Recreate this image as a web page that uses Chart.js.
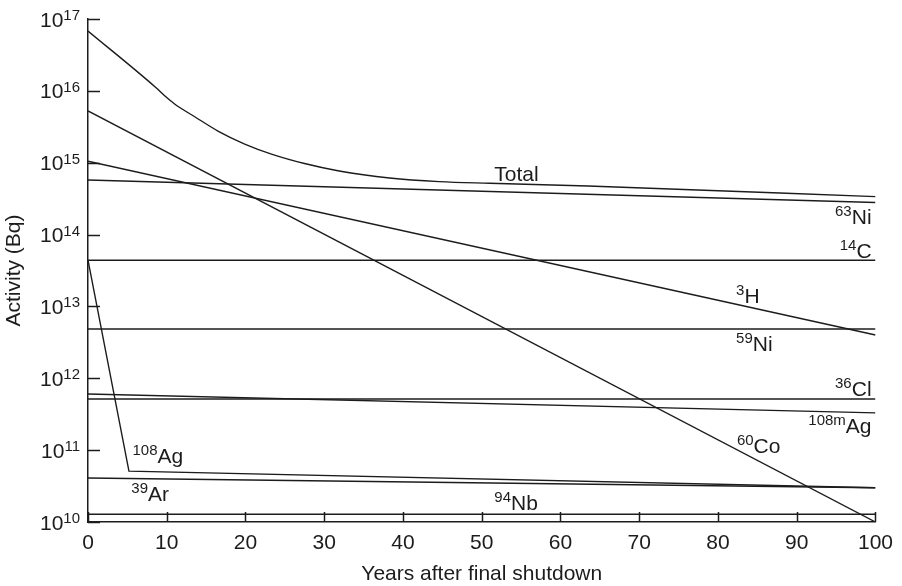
<!DOCTYPE html>
<html>
<head>
<meta charset="utf-8">
<script src="https://cdn.jsdelivr.net/npm/chart.js@4.4.1/dist/chart.umd.min.js"></script>
<style>
    html, body { margin: 0; padding: 0; background: #ffffff; }
    #wrap { width: 902px; height: 586px; position: relative; }
</style>
</head>
<body>
<div id="wrap"><canvas id="activity-chart"></canvas></div>
<script>
// --- datos (actividad en Bq frente a anos tras el cierre) ---
const totalYears    = [0, 8.5, 9.76, 11.0, 13.6, 16.5, 19.9, 23.3, 27.5, 31.9, 38.3, 44.6, 51, 63.5, 100];
const totalActivity = [6.8e16, 1.14e16, 8.5e15, 6.56e15, 4.33e15, 2.76e15, 1.82e15, 1.32e15, 9.75e14, 7.67e14, 6.13e14, 5.45e14, 5.17e14, 4.75e14, 3.37e14];

const endYears   = [0, 100];
const ni63       = [5.75e14, 2.8e14];
const c14        = [4.4e13, 4.4e13];
const h3         = [1.05e15, 4.0e12];
const ni59       = [4.85e12, 4.85e12];
const cl36       = [5.15e11, 5.15e11];
const ag108m     = [6.05e11, 3.3e11];
const co60       = [5.25e15, 1.0e10];
const ar39       = [4.1e10, 3.0e10];
const nb94       = [1.28e10, 1.28e10];

const ag108Years = [0, 5.2, 100];
const ag108      = [4.4e13, 5.1e10, 3.0e10];

// marcas de los ejes
const xTickValues = [0, 10, 20, 30, 40, 50, 60, 70, 80, 90, 100];
const yExponents  = [10, 11, 12, 13, 14, 15, 16, 17];

// etiquetas de cada curva: superindice, simbolo, posicion (ano, Bq), alineacion
const curveLabels = [
    { sup: '',     main: 'Total', year: 51.6, value: 5.6e14,  align: 'left' },
    { sup: '63',   main: 'Ni',    year: 99.5, value: 1.4e14,  align: 'right' },
    { sup: '14',   main: 'C',     year: 99.5, value: 4.7e13,  align: 'right' },
    { sup: '3',    main: 'H',     year: 82.3, value: 1.13e13, align: 'left' },
    { sup: '59',   main: 'Ni',    year: 82.3, value: 2.42e12, align: 'left' },
    { sup: '36',   main: 'Cl',    year: 99.5, value: 5.7e11,  align: 'right' },
    { sup: '108m', main: 'Ag',    year: 99.5, value: 1.73e11, align: 'right' },
    { sup: '60',   main: 'Co',    year: 82.4, value: 9.0e10,  align: 'left' },
    { sup: '108',  main: 'Ag',    year: 5.65, value: 6.6e10,  align: 'left' },
    { sup: '39',   main: 'Ar',    year: 5.5,  value: 1.98e10, align: 'left' },
    { sup: '94',   main: 'Nb',    year: 51.6, value: 1.47e10, align: 'left' }
];

const INK = '#1c1c1c';
const FONT = '"Liberation Sans", Arial, Helvetica, sans-serif';
const MAIN_FONT = '21px ' + FONT;
const SUP_FONT = '15px ' + FONT;

const toPoints = (xs, ys) => xs.map((x, i) => ({ x: x, y: ys[i] }));

const seriesLine = (label, xs, ys) => ({
    label: label,
    data: toPoints(xs, ys),
    borderColor: INK,
    borderWidth: 1.4,
    pointRadius: 0,
    tension: 0,
    fill: false
});

const datasets = [
    Object.assign(seriesLine('Total', totalYears, totalActivity), { cubicInterpolationMode: 'monotone' }),
    seriesLine('63Ni', endYears, ni63),
    seriesLine('14C', endYears, c14),
    seriesLine('3H', endYears, h3),
    seriesLine('59Ni', endYears, ni59),
    seriesLine('36Cl', endYears, cl36),
    seriesLine('108mAg', endYears, ag108m),
    seriesLine('60Co', endYears, co60),
    seriesLine('108Ag', ag108Years, ag108),
    seriesLine('39Ar', endYears, ar39),
    seriesLine('94Nb', endYears, nb94)
];

// ticks hacia dentro, etiquetas 10^n y nombres de los isotopos
const decayDecorations = {
    id: 'decayDecorations',
    afterDraw(chart) {
        const ctx = chart.ctx;
        const xs = chart.scales.x;
        const ys = chart.scales.y;
        const area = chart.chartArea;
        ctx.save();

        ctx.strokeStyle = INK;
        ctx.lineWidth = 1.5;
        ctx.beginPath();
        xTickValues.forEach(v => {
            const px = Math.round(xs.getPixelForValue(v)) + 0.5;
            ctx.moveTo(px, area.bottom);
            ctx.lineTo(px, area.bottom - 10);
        });
        yExponents.forEach(e => {
            const py = Math.round(ys.getPixelForValue(Math.pow(10, e))) + 0.5;
            ctx.moveTo(area.left, py);
            ctx.lineTo(area.left + 12, py);
        });
        ctx.stroke();

        ctx.fillStyle = INK;
        ctx.textBaseline = 'alphabetic';
        ctx.textAlign = 'left';
        const labelRight = area.left - 8;
        yExponents.forEach(e => {
            const py = ys.getPixelForValue(Math.pow(10, e));
            ctx.font = SUP_FONT;
            const supW = ctx.measureText(String(e)).width;
            ctx.font = MAIN_FONT;
            const mainW = ctx.measureText('10').width;
            const x0 = labelRight - supW - mainW;
            ctx.fillText('10', x0, py + 7.5);
            ctx.font = SUP_FONT;
            ctx.fillText(String(e), x0 + mainW, py + 1);
        });

        curveLabels.forEach(l => {
            const px = xs.getPixelForValue(l.year);
            const py = ys.getPixelForValue(l.value);
            ctx.font = SUP_FONT;
            const supW = l.sup ? ctx.measureText(l.sup).width : 0;
            ctx.font = MAIN_FONT;
            const mainW = ctx.measureText(l.main).width;
            const x0 = l.align === 'right' ? px - supW - mainW : px;
            if (l.sup) {
                ctx.font = SUP_FONT;
                ctx.fillText(l.sup, x0, py - 8);
            }
            ctx.font = MAIN_FONT;
            ctx.fillText(l.main, x0 + supW, py);
        });

        ctx.restore();
    }
};

const ctx = document.getElementById('activity-chart');
new Chart(ctx, {
    type: 'line',
    data: { datasets: datasets },
    options: {
        responsive: true,
        maintainAspectRatio: false,
        animation: false,
        devicePixelRatio: 1,
        layout: { padding: { top: 19, right: 25, left: 0, bottom: 0 } },
        plugins: {
            legend: { display: false },
            tooltip: { enabled: false }
        },
        scales: {
            x: {
                type: 'linear',
                min: 0,
                max: 100,
                afterFit: (scale) => { scale.height = 64; },
                afterBuildTicks: (scale) => { scale.ticks = xTickValues.map(v => ({ value: v })); },
                grid: { display: false, drawTicks: false },
                border: { display: true, color: INK, width: 1.5 },
                ticks: {
                    color: INK,
                    font: { family: FONT, size: 21 },
                    padding: 9,
                    maxRotation: 0
                },
                title: {
                    display: true,
                    text: 'Years after final shutdown',
                    color: INK,
                    font: { family: FONT, size: 21 },
                    padding: { top: 0, bottom: -1 }
                }
            },
            y: {
                type: 'logarithmic',
                min: 1e10,
                max: 1e17,
                afterFit: (scale) => { scale.width = 88; },
                grid: { display: false, drawTicks: false },
                border: { display: true, color: INK, width: 1.5 },
                ticks: { display: false },
                title: {
                    display: true,
                    text: 'Activity (Bq)',
                    color: INK,
                    font: { family: FONT, size: 21 },
                    padding: { top: 2, bottom: 0 }
                }
            }
        }
    },
    plugins: [decayDecorations]
});
</script>
</body>
</html>
